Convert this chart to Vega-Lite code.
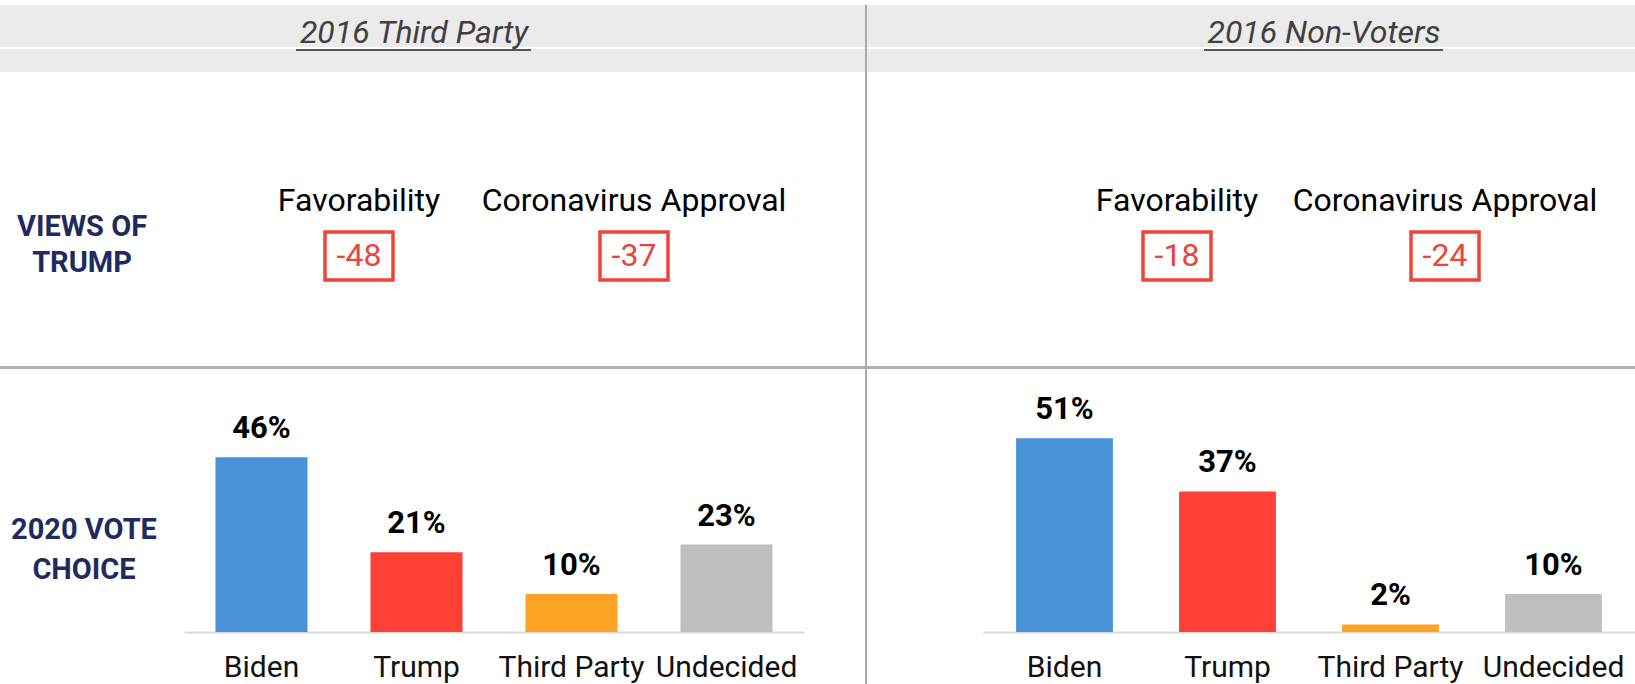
{
  "$schema": "https://vega.github.io/schema/vega-lite/v6.json",
  "background": "white",
  "padding": {"top": 5, "left": 0, "right": 0, "bottom": 0},
  "config": {"view": {"stroke": null}, "font": "Roboto", "concat": {"spacing": 0}},
  "datasets": {
    "panels": [{"panel": "2016 Third Party"}, {"panel": "2016 Non-Voters"}],
    "rowLabels": [
      {"section": "views", "label": "VIEWS OF\nTRUMP"},
      {"section": "vote", "label": "2020 VOTE\nCHOICE"}
    ],
    "views": [
      {"panel": "2016 Third Party", "metric": "Favorability", "net": -48},
      {"panel": "2016 Third Party", "metric": "Coronavirus Approval", "net": -37},
      {"panel": "2016 Non-Voters", "metric": "Favorability", "net": -18},
      {"panel": "2016 Non-Voters", "metric": "Coronavirus Approval", "net": -24}
    ],
    "vote": [
      {"panel": "2016 Third Party", "candidate": "Biden", "share": 0.46},
      {"panel": "2016 Third Party", "candidate": "Trump", "share": 0.21},
      {"panel": "2016 Third Party", "candidate": "Third Party", "share": 0.10},
      {"panel": "2016 Third Party", "candidate": "Undecided", "share": 0.23},
      {"panel": "2016 Non-Voters", "candidate": "Biden", "share": 0.51},
      {"panel": "2016 Non-Voters", "candidate": "Trump", "share": 0.37},
      {"panel": "2016 Non-Voters", "candidate": "Third Party", "share": 0.02},
      {"panel": "2016 Non-Voters", "candidate": "Undecided", "share": 0.10}
    ]
  },
  "spacing": 0,
  "hconcat": [
    {
      "spacing": 0,
      "vconcat": [
        {
          "spacing": 0,
          "vconcat": [
            {
              "spacing": 0,
              "bounds": "flush",
              "hconcat": [
                {"width": 264, "height": 42, "view": {"fill": "#ebebeb"}, "data": {"values": []}, "mark": "text"},
                {
                  "width": 300, "height": 42, "view": {"fill": "#ebebeb"},
                  "data": {"name": "panels"},
                  "transform": [{"filter": "datum.panel === '2016 Third Party'"}],
                  "mark": {"type": "text", "fontSize": 32, "fontStyle": "italic", "color": "#404040", "baseline": "alphabetic", "dy": 17},
                  "encoding": {"text": {"field": "panel"}}
                },
                {"width": 301, "height": 42, "view": {"fill": "#ebebeb"}, "data": {"values": []}, "mark": "text"}
              ]
            },
            {
              "spacing": 0,
              "bounds": "flush",
              "hconcat": [
                {"width": 296, "height": 2, "view": {"fill": "#ebebeb"}, "data": {"values": []}, "mark": "text"},
                {"width": 235, "height": 2, "view": {"fill": "#555555"}, "data": {"values": []}, "mark": "text"},
                {"width": 334, "height": 2, "view": {"fill": "#ebebeb"}, "data": {"values": []}, "mark": "text"}
              ]
            },
            {"width": 865, "height": 21, "view": {"fill": "#ebebeb"}, "data": {"values": []}, "mark": "text"}
          ]
        },
        {
          "spacing": 0,
          "bounds": "flush",
          "hconcat": [
            {
              "width": 164, "height": 294,
              "data": {"name": "rowLabels"},
              "transform": [{"filter": "datum.section === 'views'"}],
              "mark": {"type": "text", "fontSize": 29, "fontWeight": "bold", "color": "#1f2b5e", "lineBreak": "\n", "lineHeight": 36, "baseline": "middle", "dy": 8},
              "encoding": {"text": {"field": "label"}}
            },
            {
              "width": 701, "height": 294,
              "data": {"name": "views"},
              "transform": [{"filter": "datum.panel === '2016 Third Party'"}],
              "encoding": {
                "x": {"field": "metric", "type": "nominal", "scale": {"type": "point", "domain": ["Favorability", "Coronavirus Approval"], "range": [195, 470], "padding": 0}, "axis": null}
              },
              "layer": [
                {
                  "mark": {"type": "text", "fontSize": 32, "color": "#000000", "baseline": "alphabetic"},
                  "encoding": {
                    "y": {"datum": "name", "type": "nominal", "scale": {"type": "point", "domain": ["name", "net"], "range": [139, 184], "padding": 0}, "axis": null},
                    "text": {"field": "metric"}
                  }
                },
                {
                  "mark": {"type": "point", "shape": "M-1,-0.706H1V0.706H-1Z", "size": 4624, "filled": false, "stroke": "#f0443a", "strokeWidth": 3.5, "opacity": 1},
                  "encoding": {"y": {"datum": "net", "type": "nominal"}}
                },
                {
                  "mark": {"type": "text", "fontSize": 32, "color": "#e8453c", "baseline": "middle"},
                  "encoding": {"y": {"datum": "net", "type": "nominal"}, "text": {"field": "net", "type": "nominal"}}
                }
              ]
            }
          ]
        },
        {"width": 865, "height": 3, "view": {"fill": "#b0b0b0"}, "data": {"values": []}, "mark": "text"},
        {
          "spacing": 0,
          "bounds": "flush",
          "hconcat": [
            {
              "width": 168, "height": 263,
              "data": {"name": "rowLabels"},
              "transform": [{"filter": "datum.section === 'vote'"}],
              "mark": {"type": "text", "fontSize": 29, "fontWeight": "bold", "color": "#1f2b5e", "lineBreak": "\n", "lineHeight": 40, "baseline": "middle", "dy": 29},
              "encoding": {"text": {"field": "label"}}
            },
            {
              "width": 697, "height": 263,
              "data": {"name": "vote"},
              "transform": [{"filter": "datum.panel === '2016 Third Party'"}],
              "encoding": {
                "x": {
                  "field": "candidate", "type": "nominal",
                  "scale": {"domain": ["Biden", "Trump", "Third Party", "Undecided"], "range": [16, 636], "paddingInner": 0.406, "paddingOuter": 0.203},
                  "axis": {"title": null, "orient": "bottom", "domainColor": "#d9d9d9", "domainWidth": 2, "ticks": false, "tickSize": 0, "labelFontSize": 30, "labelColor": "#111111", "labelPadding": 20, "labelAngle": 0, "labelOverlap": false, "grid": false}
                },
                "y": {"field": "share", "type": "quantitative", "scale": {"domain": [0, 0.692], "nice": false}, "axis": null}
              },
              "layer": [
                {
                  "mark": {"type": "bar"},
                  "encoding": {"color": {"field": "candidate", "type": "nominal", "scale": {"domain": ["Biden", "Trump", "Third Party", "Undecided"], "range": ["#4a92d8", "#fe4036", "#fea323", "#bfbfbf"]}, "legend": null}}
                },
                {
                  "mark": {"type": "text", "fontSize": 31, "fontWeight": "bold", "color": "#000000", "baseline": "alphabetic", "dy": -19},
                  "encoding": {"text": {"field": "share", "type": "quantitative", "format": ".0%"}}
                }
              ]
            }
          ]
        }
      ]
    },
    {"width": 2, "height": 679, "view": {"fill": "#ababab"}, "data": {"values": []}, "mark": "text"},
    {
      "spacing": 0,
      "vconcat": [
        {
          "spacing": 0,
          "vconcat": [
            {
              "spacing": 0,
              "bounds": "flush",
              "hconcat": [
                {"width": 307, "height": 42, "view": {"fill": "#ebebeb"}, "data": {"values": []}, "mark": "text"},
                {
                  "width": 300, "height": 42, "view": {"fill": "#ebebeb"},
                  "data": {"name": "panels"},
                  "transform": [{"filter": "datum.panel === '2016 Non-Voters'"}],
                  "mark": {"type": "text", "fontSize": 32, "fontStyle": "italic", "color": "#404040", "baseline": "alphabetic", "dy": 17},
                  "encoding": {"text": {"field": "panel"}}
                },
                {"width": 161, "height": 42, "view": {"fill": "#ebebeb"}, "data": {"values": []}, "mark": "text"}
              ]
            },
            {
              "spacing": 0,
              "bounds": "flush",
              "hconcat": [
                {"width": 337, "height": 2, "view": {"fill": "#ebebeb"}, "data": {"values": []}, "mark": "text"},
                {"width": 239, "height": 2, "view": {"fill": "#555555"}, "data": {"values": []}, "mark": "text"},
                {"width": 192, "height": 2, "view": {"fill": "#ebebeb"}, "data": {"values": []}, "mark": "text"}
              ]
            },
            {"width": 768, "height": 21, "view": {"fill": "#ebebeb"}, "data": {"values": []}, "mark": "text"}
          ]
        },
        {
          "width": 768, "height": 294,
          "data": {"name": "views"},
          "transform": [{"filter": "datum.panel === '2016 Non-Voters'"}],
          "encoding": {
            "x": {"field": "metric", "type": "nominal", "scale": {"type": "point", "domain": ["Favorability", "Coronavirus Approval"], "range": [310, 578], "padding": 0}, "axis": null}
          },
          "layer": [
            {
              "mark": {"type": "text", "fontSize": 32, "color": "#000000", "baseline": "alphabetic"},
              "encoding": {
                "y": {"datum": "name", "type": "nominal", "scale": {"type": "point", "domain": ["name", "net"], "range": [139, 184], "padding": 0}, "axis": null},
                "text": {"field": "metric"}
              }
            },
            {
              "mark": {"type": "point", "shape": "M-1,-0.706H1V0.706H-1Z", "size": 4624, "filled": false, "stroke": "#f0443a", "strokeWidth": 3.5, "opacity": 1},
              "encoding": {"y": {"datum": "net", "type": "nominal"}}
            },
            {
              "mark": {"type": "text", "fontSize": 32, "color": "#e8453c", "baseline": "middle"},
              "encoding": {"y": {"datum": "net", "type": "nominal"}, "text": {"field": "net", "type": "nominal"}}
            }
          ]
        },
        {"width": 768, "height": 3, "view": {"fill": "#b0b0b0"}, "data": {"values": []}, "mark": "text"},
        {
          "width": 768, "height": 263,
          "data": {"name": "vote"},
          "transform": [{"filter": "datum.panel === '2016 Non-Voters'"}],
          "encoding": {
            "x": {
              "field": "candidate", "type": "nominal",
              "scale": {"domain": ["Biden", "Trump", "Third Party", "Undecided"], "range": [116, 768], "paddingInner": 0.406, "paddingOuter": 0.203},
              "axis": {"title": null, "orient": "bottom", "domainColor": "#d9d9d9", "domainWidth": 2, "ticks": false, "tickSize": 0, "labelFontSize": 30, "labelColor": "#111111", "labelPadding": 20, "labelAngle": 0, "labelOverlap": false, "grid": false}
            },
            "y": {"field": "share", "type": "quantitative", "scale": {"domain": [0, 0.692], "nice": false}, "axis": null}
          },
          "layer": [
            {
              "mark": {"type": "bar"},
              "encoding": {"color": {"field": "candidate", "type": "nominal", "scale": {"domain": ["Biden", "Trump", "Third Party", "Undecided"], "range": ["#4a92d8", "#fe4036", "#fea323", "#bfbfbf"]}, "legend": null}}
            },
            {
              "mark": {"type": "text", "fontSize": 31, "fontWeight": "bold", "color": "#000000", "baseline": "alphabetic", "dy": -19},
              "encoding": {"text": {"field": "share", "type": "quantitative", "format": ".0%"}}
            }
          ]
        }
      ]
    }
  ]
}
